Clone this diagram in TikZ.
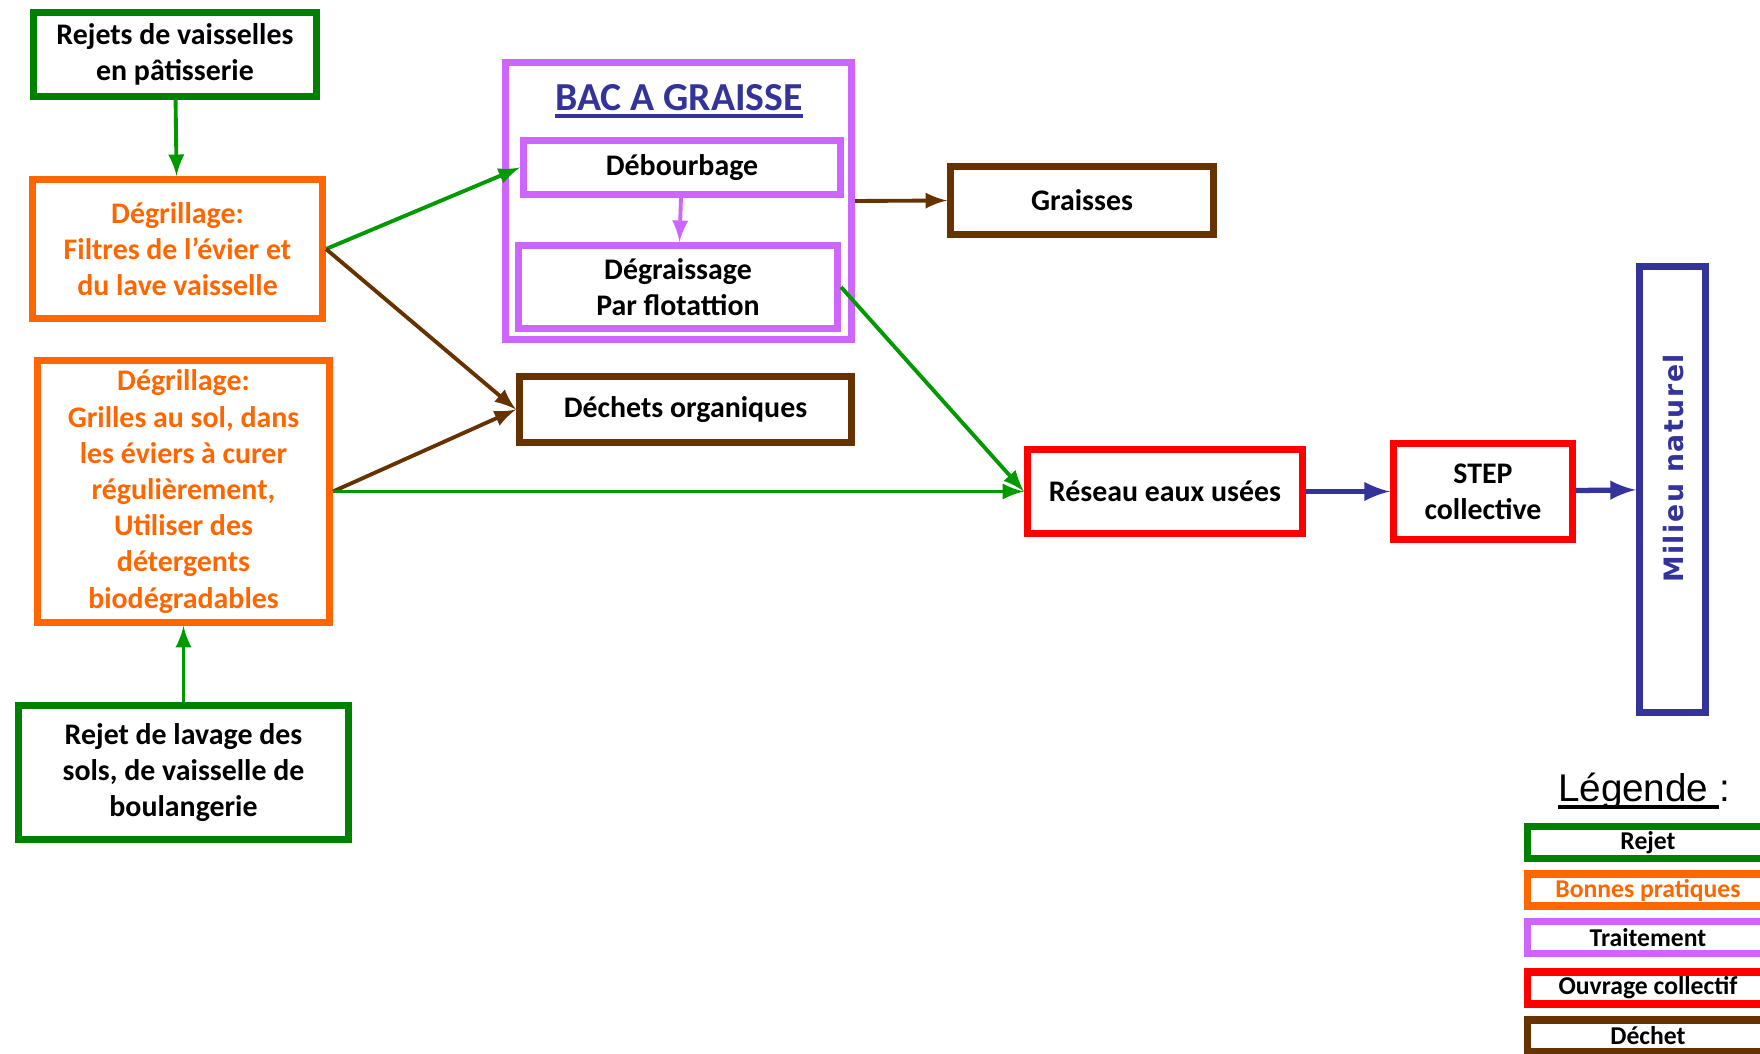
\documentclass[tikz,border=0pt]{standalone}
\usepackage{fontspec}
\setmainfont{Carlito}
\newfontfamily\legfont{Liberation Sans}
\newfontfamily\milfont[LetterSpace=6]{DejaVu Sans}
\newcommand\thickul[1]{\leavevmode\setbox0\hbox{#1}\rlap{\rule[-2.2pt]{\wd0}{1.1pt}}\box0}

\definecolor{rejetgreen}{RGB}{0,128,0}
\definecolor{flowgreen}{RGB}{0,153,0}
\definecolor{pratorange}{RGB}{255,102,0}
\definecolor{traitviolet}{RGB}{204,102,255}
\definecolor{ouvred}{RGB}{255,0,0}
\definecolor{dechbrown}{RGB}{102,51,0}
\definecolor{milblue}{RGB}{51,51,153}

\begin{document}
\begin{tikzpicture}[
  box/.style={draw, line width=2pt, align=center, inner sep=2pt,
    font=\bfseries\fontsize{8.5}{10.3}\selectfont},
  rejet/.style={box, draw=rejetgreen},
  pratique/.style={box, draw=pratorange, text=pratorange},
  traitement/.style={box, draw=traitviolet},
  ouvrage/.style={box, draw=ouvred},
  dechet/.style={box, draw=dechbrown},
  legendbox/.style={minimum width=2.41cm, minimum height=0.32cm, inner sep=0pt,
    font=\bfseries\fontsize{7.3}{8}\selectfont},
  flow/.style={draw, line width=1.1pt, ->, >=latex}
]
\useasboundingbox (0,0) rectangle (17.6,10.53);
\clip (0,0) rectangle (17.6,10.53);

% rejets et bonnes pratiques
\node[rejet, minimum width=2.83cm, minimum height=0.84cm] (rejpat) at (1.75,9.985) {Rejets de vaisselles\\en pâtisserie};
\node[pratique, minimum width=2.90cm, minimum height=1.39cm] (filtres) at (1.775,8.04) {Dégrillage:\\Filtres de l’évier et\\du lave vaisselle};
\node[pratique, minimum width=2.92cm, minimum height=2.62cm] (grilles) at (1.835,5.615) {Dégrillage:\\Grilles au sol, dans\\les éviers à curer\\régulièrement,\\Utiliser des\\détergents\\biodégradables};
\node[rejet, minimum width=3.30cm, minimum height=1.34cm] (lavage) at (1.835,2.805) {Rejet de lavage des\\sols, de vaisselle de\\boulangerie};

% bac a graisse
\node[traitement, minimum width=3.46cm, minimum height=2.77cm] (bac) at (6.785,8.52) {};
\node[font=\bfseries\fontsize{11.3}{13}\selectfont, text=milblue] (bactitle) at (6.79,9.52) {\thickul{BAC A GRAISSE}};
\node[traitement, minimum width=3.17cm, minimum height=0.54cm] (debourbage) at (6.82,8.855) {Débourbage};
\node[traitement, minimum width=3.19cm, minimum height=0.83cm] (degraissage) at (6.78,7.66) {Dégraissage\\Par flotattion};

% dechets
\node[dechet, minimum width=3.32cm, minimum height=0.66cm] (dechets) at (6.855,6.435) {Déchets organiques};
\node[dechet, minimum width=2.63cm, minimum height=0.68cm] (graisses) at (10.82,8.525) {Graisses};

% ouvrages collectifs
\node[ouvrage, minimum width=2.75cm, minimum height=0.84cm] (reseau) at (11.65,5.615) {Réseau eaux usées};
\node[ouvrage, minimum width=1.79cm, minimum height=0.96cm] (step) at (14.83,5.615) {STEP\\collective};
\node[box, draw=milblue, minimum width=0.66cm, minimum height=4.46cm] (milieu) at (16.725,5.635) {};
\node[rotate=90, text=milblue, font=\milfont\bfseries\fontsize{7.6}{9}\selectfont] (milieulabel) at (16.74,5.845) {Milieu naturel};

\path[flow, draw=flowgreen] (rejpat) -- (filtres);
\path[flow, draw=flowgreen] (lavage) -- (grilles);
\path[flow, draw=flowgreen] (filtres.east) -- (debourbage.west);
\path[flow, draw=dechbrown] (filtres.east) -- (dechets.west);
\path[flow, draw=dechbrown] (grilles.east) -- (dechets.west);
\path[flow, draw=flowgreen] (grilles.east) -- (reseau.west);
\path[flow, draw=traitviolet] (debourbage) -- (degraissage);
\path[flow, draw=flowgreen] (degraissage.east) -- (reseau.west);
\path[flow, draw=dechbrown] (bac.east) -- (graisses.west);
\path[flow, draw=milblue, line width=1.5pt] (reseau) -- (step);
\path[flow, draw=milblue, line width=1.5pt] (step) -- (milieu);

% legende
\node[font=\legfont\fontsize{11}{13}\selectfont] (legtitle) at (16.44,2.62) {\thickul{Légende\ }:};
\node[rejet, legendbox] (legrejet) at (16.48,2.105) {Rejet};
\node[pratique, legendbox] (legprat) at (16.48,1.63) {Bonnes pratiques};
\node[traitement, legendbox] (legtrait) at (16.48,1.155) {Traitement};
\node[ouvrage, legendbox] (legouvr) at (16.48,0.65) {Ouvrage collectif};
\node[dechet, legendbox] (legdech) at (16.48,0.17) {Déchet};
\end{tikzpicture}
\end{document}
